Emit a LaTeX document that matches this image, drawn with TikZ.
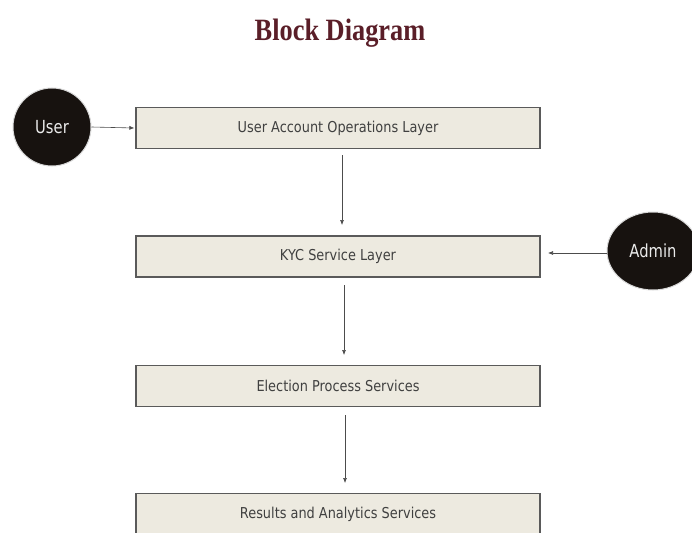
\documentclass[tikz,border=0pt]{standalone}
\usepackage{fontspec}
\setmainfont{Liberation Serif}
\newfontfamily\boxfont{DejaVu Sans}
\usetikzlibrary{arrows.meta,shapes.geometric}
\definecolor{boxfill}{HTML}{EDEAE0}
\definecolor{boxline}{HTML}{5A5A5A}
\definecolor{titlecol}{HTML}{5A1E28}
\definecolor{actorfill}{HTML}{17120F}
\tikzset{
  boxtext/.style={font=\boxfont\fontsize{15}{17}\selectfont\addfontfeatures{FakeStretch=0.86}, text=black!75},
  layerbox/.style={boxtext, draw=boxline, line width=1.2pt, fill=boxfill, minimum width=404pt, minimum height=41pt, inner sep=0pt},
  actor/.style={ellipse, draw=black!15, line width=1pt, fill=actorfill, inner sep=0pt, font=\boxfont\fontsize{18}{20}\selectfont\addfontfeatures{FakeStretch=0.82}, text=black!8},
  conn/.style={draw=black!70, line width=0.6pt, -{Latex[length=5pt,width=4pt]}}
}
\begin{document}
\begin{tikzpicture}[x=1pt,y=1pt]
\useasboundingbox (0,0) rectangle (692,-532);
\clip (0,0) rectangle (692,-532);
\node[font=\bfseries\fontsize{31}{34}\selectfont\addfontfeatures{FakeStretch=0.85}, text=titlecol] (title) at (340,-33) {Block Diagram};
\node[layerbox] (l1) at (338,-128) {User Account Operations Layer};
\node[layerbox] (l2) at (338,-256.5) {KYC Service Layer};
\node[layerbox] (l3) at (338,-386) {Election Process Services};
\node[layerbox, minimum height=60pt, anchor=north] (l4) at (338,-493) {};
\node[boxtext] (l4t) at (338,-514) {Results and Analytics Services};
\node[actor, minimum width=78pt, minimum height=78pt] (user) at (52,-127) {User};
\node[actor, minimum width=92pt, minimum height=78pt] (admin) at (653,-251) {Admin};
\draw[conn] (user.east) -- ([xshift=-1pt]l1.west);
\coordinate (a2) at (548,-253);
\draw[conn] (admin.west |- a2) -- (a2);
\coordinate (t0) at (342,-155);
\coordinate (t1) at (342,-225);
\draw[conn] (t0) -- (t1);
\coordinate (t2) at (344,-285);
\coordinate (t3) at (344,-355);
\draw[conn] (t2) -- (t3);
\coordinate (t4) at (345,-415);
\coordinate (t5) at (345,-483);
\draw[conn] (t4) -- (t5);
\end{tikzpicture}
\end{document}
